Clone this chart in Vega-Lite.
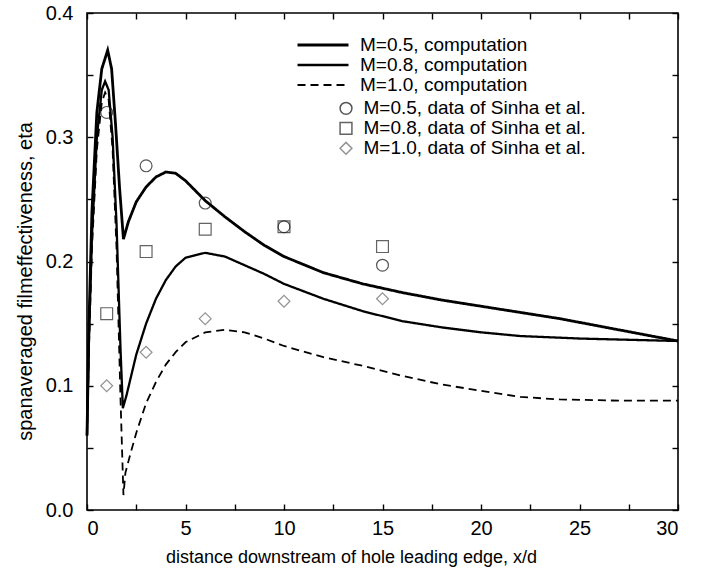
{
  "$schema": "https://vega.github.io/schema/vega-lite/v6.json",
  "width": 591,
  "height": 497,
  "autosize": "none",
  "padding": {"left": 87, "top": 13, "right": 23, "bottom": 61},
  "background": "white",
  "config": {
    "view": {"stroke": "black", "strokeWidth": 1.6},
    "font": "Liberation Sans",
    "axis": {"grid": false, "domain": false, "labelColor": "black", "titleColor": "black", "tickColor": "black", "labelFont": "Liberation Sans", "titleFont": "Liberation Sans", "titleFontWeight": "normal"},
    "legend": {"labelFont": "Liberation Sans", "labelColor": "black"}
  },
  "datasets": {
    "lines": [
      {"series": "M=0.5, computation", "x": 0, "eta": 0.06},
      {"series": "M=0.5, computation", "x": 0.1, "eta": 0.15},
      {"series": "M=0.5, computation", "x": 0.25, "eta": 0.24},
      {"series": "M=0.5, computation", "x": 0.5, "eta": 0.32},
      {"series": "M=0.5, computation", "x": 0.75, "eta": 0.355},
      {"series": "M=0.5, computation", "x": 1.05, "eta": 0.37},
      {"series": "M=0.5, computation", "x": 1.25, "eta": 0.355},
      {"series": "M=0.5, computation", "x": 1.45, "eta": 0.31},
      {"series": "M=0.5, computation", "x": 1.65, "eta": 0.26},
      {"series": "M=0.5, computation", "x": 1.85, "eta": 0.218},
      {"series": "M=0.5, computation", "x": 2.1, "eta": 0.232},
      {"series": "M=0.5, computation", "x": 2.5, "eta": 0.248},
      {"series": "M=0.5, computation", "x": 3, "eta": 0.26},
      {"series": "M=0.5, computation", "x": 3.5, "eta": 0.268},
      {"series": "M=0.5, computation", "x": 4, "eta": 0.272},
      {"series": "M=0.5, computation", "x": 4.5, "eta": 0.271},
      {"series": "M=0.5, computation", "x": 5, "eta": 0.265},
      {"series": "M=0.5, computation", "x": 6, "eta": 0.249},
      {"series": "M=0.5, computation", "x": 7, "eta": 0.236},
      {"series": "M=0.5, computation", "x": 8, "eta": 0.224},
      {"series": "M=0.5, computation", "x": 9, "eta": 0.213},
      {"series": "M=0.5, computation", "x": 10, "eta": 0.204},
      {"series": "M=0.5, computation", "x": 12, "eta": 0.191},
      {"series": "M=0.5, computation", "x": 14, "eta": 0.182},
      {"series": "M=0.5, computation", "x": 16, "eta": 0.175},
      {"series": "M=0.5, computation", "x": 18, "eta": 0.169},
      {"series": "M=0.5, computation", "x": 20, "eta": 0.164},
      {"series": "M=0.5, computation", "x": 22, "eta": 0.159},
      {"series": "M=0.5, computation", "x": 24, "eta": 0.154},
      {"series": "M=0.5, computation", "x": 26, "eta": 0.148},
      {"series": "M=0.5, computation", "x": 28, "eta": 0.142},
      {"series": "M=0.5, computation", "x": 30, "eta": 0.136},
      {"series": "M=0.8, computation", "x": 0, "eta": 0.06},
      {"series": "M=0.8, computation", "x": 0.1, "eta": 0.14},
      {"series": "M=0.8, computation", "x": 0.25, "eta": 0.22},
      {"series": "M=0.8, computation", "x": 0.5, "eta": 0.3},
      {"series": "M=0.8, computation", "x": 0.75, "eta": 0.338},
      {"series": "M=0.8, computation", "x": 0.92, "eta": 0.345},
      {"series": "M=0.8, computation", "x": 1.1, "eta": 0.338},
      {"series": "M=0.8, computation", "x": 1.3, "eta": 0.3},
      {"series": "M=0.8, computation", "x": 1.5, "eta": 0.23},
      {"series": "M=0.8, computation", "x": 1.7, "eta": 0.13},
      {"series": "M=0.8, computation", "x": 1.82, "eta": 0.082},
      {"series": "M=0.8, computation", "x": 2.0, "eta": 0.092},
      {"series": "M=0.8, computation", "x": 2.5, "eta": 0.125},
      {"series": "M=0.8, computation", "x": 3, "eta": 0.15},
      {"series": "M=0.8, computation", "x": 3.5, "eta": 0.17},
      {"series": "M=0.8, computation", "x": 4, "eta": 0.185},
      {"series": "M=0.8, computation", "x": 4.5, "eta": 0.196},
      {"series": "M=0.8, computation", "x": 5, "eta": 0.203},
      {"series": "M=0.8, computation", "x": 6, "eta": 0.207},
      {"series": "M=0.8, computation", "x": 7, "eta": 0.204},
      {"series": "M=0.8, computation", "x": 8, "eta": 0.197},
      {"series": "M=0.8, computation", "x": 9, "eta": 0.19},
      {"series": "M=0.8, computation", "x": 10, "eta": 0.182},
      {"series": "M=0.8, computation", "x": 12, "eta": 0.17},
      {"series": "M=0.8, computation", "x": 14, "eta": 0.16},
      {"series": "M=0.8, computation", "x": 16, "eta": 0.152},
      {"series": "M=0.8, computation", "x": 18, "eta": 0.147},
      {"series": "M=0.8, computation", "x": 20, "eta": 0.143},
      {"series": "M=0.8, computation", "x": 22, "eta": 0.14},
      {"series": "M=0.8, computation", "x": 25, "eta": 0.138},
      {"series": "M=0.8, computation", "x": 30, "eta": 0.136},
      {"series": "M=1.0, computation", "x": 0, "eta": 0.06},
      {"series": "M=1.0, computation", "x": 0.1, "eta": 0.13},
      {"series": "M=1.0, computation", "x": 0.25, "eta": 0.21},
      {"series": "M=1.0, computation", "x": 0.5, "eta": 0.29},
      {"series": "M=1.0, computation", "x": 0.75, "eta": 0.328},
      {"series": "M=1.0, computation", "x": 0.92, "eta": 0.336},
      {"series": "M=1.0, computation", "x": 1.1, "eta": 0.33},
      {"series": "M=1.0, computation", "x": 1.3, "eta": 0.29},
      {"series": "M=1.0, computation", "x": 1.5, "eta": 0.21},
      {"series": "M=1.0, computation", "x": 1.7, "eta": 0.09},
      {"series": "M=1.0, computation", "x": 1.85, "eta": 0.012},
      {"series": "M=1.0, computation", "x": 1.95, "eta": 0.03},
      {"series": "M=1.0, computation", "x": 2.2, "eta": 0.045},
      {"series": "M=1.0, computation", "x": 2.5, "eta": 0.062},
      {"series": "M=1.0, computation", "x": 3, "eta": 0.086},
      {"series": "M=1.0, computation", "x": 3.5, "eta": 0.103},
      {"series": "M=1.0, computation", "x": 4, "eta": 0.117},
      {"series": "M=1.0, computation", "x": 4.5, "eta": 0.127},
      {"series": "M=1.0, computation", "x": 5, "eta": 0.135},
      {"series": "M=1.0, computation", "x": 6, "eta": 0.143},
      {"series": "M=1.0, computation", "x": 7, "eta": 0.145},
      {"series": "M=1.0, computation", "x": 8, "eta": 0.143},
      {"series": "M=1.0, computation", "x": 9, "eta": 0.138},
      {"series": "M=1.0, computation", "x": 10, "eta": 0.132},
      {"series": "M=1.0, computation", "x": 12, "eta": 0.123},
      {"series": "M=1.0, computation", "x": 14, "eta": 0.116},
      {"series": "M=1.0, computation", "x": 16, "eta": 0.108},
      {"series": "M=1.0, computation", "x": 18, "eta": 0.101},
      {"series": "M=1.0, computation", "x": 20, "eta": 0.096},
      {"series": "M=1.0, computation", "x": 22, "eta": 0.091},
      {"series": "M=1.0, computation", "x": 24, "eta": 0.089},
      {"series": "M=1.0, computation", "x": 27, "eta": 0.088},
      {"series": "M=1.0, computation", "x": 30, "eta": 0.088}
    ],
    "points": [
      {"pseries": "M=0.5, data of Sinha et al.", "x": 1, "eta": 0.32},
      {"pseries": "M=0.5, data of Sinha et al.", "x": 3, "eta": 0.277},
      {"pseries": "M=0.5, data of Sinha et al.", "x": 6, "eta": 0.247},
      {"pseries": "M=0.5, data of Sinha et al.", "x": 10, "eta": 0.228},
      {"pseries": "M=0.5, data of Sinha et al.", "x": 15, "eta": 0.197},
      {"pseries": "M=0.8, data of Sinha et al.", "x": 1, "eta": 0.158},
      {"pseries": "M=0.8, data of Sinha et al.", "x": 3, "eta": 0.208},
      {"pseries": "M=0.8, data of Sinha et al.", "x": 6, "eta": 0.226},
      {"pseries": "M=0.8, data of Sinha et al.", "x": 10, "eta": 0.228},
      {"pseries": "M=0.8, data of Sinha et al.", "x": 15, "eta": 0.212},
      {"pseries": "M=1.0, data of Sinha et al.", "x": 1, "eta": 0.1},
      {"pseries": "M=1.0, data of Sinha et al.", "x": 3, "eta": 0.127},
      {"pseries": "M=1.0, data of Sinha et al.", "x": 6, "eta": 0.154},
      {"pseries": "M=1.0, data of Sinha et al.", "x": 10, "eta": 0.168},
      {"pseries": "M=1.0, data of Sinha et al.", "x": 15, "eta": 0.17}
    ]
  },
  "layer": [
    {
      "data": {"name": "lines"},
      "mark": {"type": "line", "color": "black"},
      "encoding": {
        "x": {"field": "x", "type": "quantitative", "scale": {"domain": [0, 30], "nice": false},
              "axis": {"orient": "bottom", "values": [0, 2.5, 5, 7.5, 10, 12.5, 15, 17.5, 20, 22.5, 25, 27.5, 30], "labelExpr": "datum.value % 5 === 0 ? datum.label : ''", "ticks": true, "tickSize": -6, "tickWidth": 1.4, "labelPadding": 14, "labelFontSize": 20, "title": "distance downstream of hole leading edge, x/d", "titleFontSize": 18, "titlePadding": 10, "titleX": 264}},
        "y": {"field": "eta", "type": "quantitative", "scale": {"domain": [0, 0.4], "nice": false},
              "axis": {"orient": "left", "values": [0, 0.05, 0.1, 0.15, 0.2, 0.25, 0.3, 0.35, 0.4], "labelExpr": "round(datum.value * 100) % 10 === 0 ? format(datum.value, '.1f') : ''", "ticks": true, "tickSize": -6, "tickWidth": 1.4, "labelPadding": 20, "labelFontSize": 20, "title": "spanaveraged filmeffectiveness, eta", "titleFontSize": 20, "titlePadding": 10, "titleY": 268}},
        "strokeDash": {"field": "series", "type": "nominal",
              "scale": {"domain": ["M=0.5, computation", "M=0.8, computation", "M=1.0, computation"], "range": [[1, 0], [1, 0], [8, 5]]},
              "legend": {"orient": "none", "legendX": 209, "legendY": 23.5, "title": null, "symbolType": "stroke", "symbolSize": 2600, "symbolStrokeColor": "black", "labelFontSize": 19, "labelOffset": 10, "rowPadding": 0, "padding": 0, "clipHeight": 17, "labelLimit": 0}},
        "strokeWidth": {"field": "series", "type": "nominal",
              "scale": {"domain": ["M=0.5, computation", "M=0.8, computation", "M=1.0, computation"], "range": [2.8, 1.8, 2.6]},
              "legend": {"orient": "none", "legendX": 209, "legendY": 23.5, "title": null, "symbolType": "stroke", "symbolSize": 2600, "symbolStrokeColor": "black", "labelFontSize": 19, "labelOffset": 10, "rowPadding": 0, "padding": 0, "clipHeight": 17, "labelLimit": 0}}
      }
    },
    {
      "data": {"name": "points"},
      "mark": {"type": "point", "filled": false, "size": 140, "strokeWidth": 1.2},
      "encoding": {
        "x": {"field": "x", "type": "quantitative", "scale": {"domain": [0, 30], "nice": false},
              "axis": {"orient": "top", "values": [0, 2.5, 5, 7.5, 10, 12.5, 15, 17.5, 20, 22.5, 25, 27.5, 30], "labels": false, "ticks": true, "tickSize": -6, "tickWidth": 1.4, "title": null}},
        "y": {"field": "eta", "type": "quantitative", "scale": {"domain": [0, 0.4], "nice": false},
              "axis": {"orient": "right", "values": [0, 0.05, 0.1, 0.15, 0.2, 0.25, 0.3, 0.35, 0.4], "labels": false, "ticks": true, "tickSize": -6, "tickWidth": 1.4, "title": null}},
        "shape": {"field": "pseries", "type": "nominal",
              "scale": {"domain": ["M=0.5, data of Sinha et al.", "M=0.8, data of Sinha et al.", "M=1.0, data of Sinha et al."], "range": ["circle", "square", "diamond"]},
              "legend": {"orient": "none", "legendX": 249.5, "legendY": 86.8, "title": null, "symbolSize": 140, "symbolFillColor": "transparent", "labelFontSize": 19, "labelOffset": 8, "rowPadding": 0, "padding": 0, "clipHeight": 17, "labelLimit": 0}},
        "stroke": {"field": "pseries", "type": "nominal",
              "scale": {"domain": ["M=0.5, data of Sinha et al.", "M=0.8, data of Sinha et al.", "M=1.0, data of Sinha et al."], "range": ["#111111", "#222222", "#666666"]},
              "legend": {"orient": "none", "legendX": 249.5, "legendY": 86.8, "title": null, "symbolSize": 140, "symbolFillColor": "transparent", "labelFontSize": 19, "labelOffset": 8, "rowPadding": 0, "padding": 0, "clipHeight": 17, "labelLimit": 0}}
      }
    }
  ],
  "resolve": {"axis": {"x": "independent", "y": "independent"}}
}
